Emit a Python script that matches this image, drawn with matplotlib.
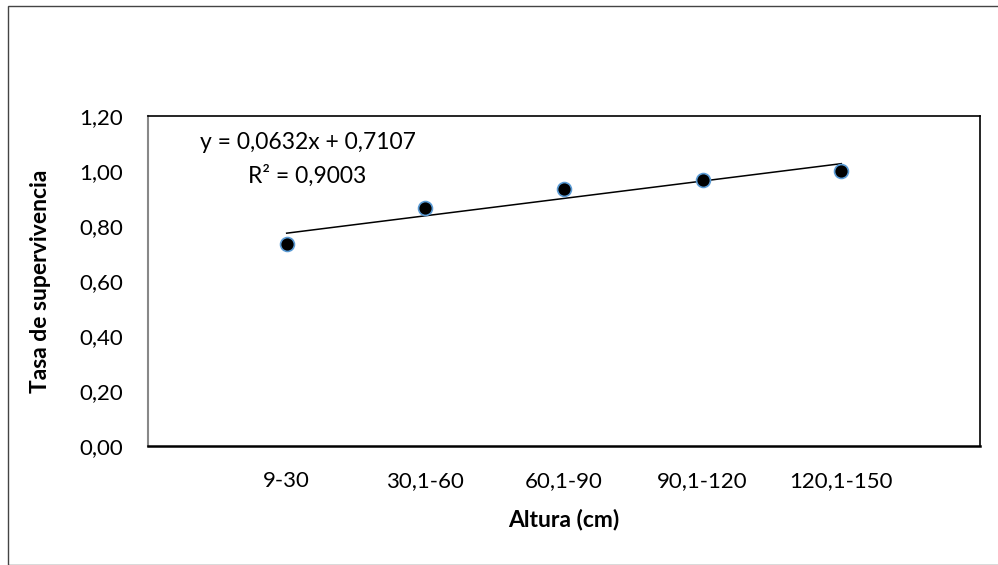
import numpy as np
import matplotlib.pyplot as plt
from matplotlib.patches import Rectangle

plt.rcParams['font.family'] = ['Lato', 'DejaVu Sans']

#data
categorias = ['9-30', '30,1-60', '60,1-90', '90,1-120', '120,1-150']
tasa = [0.735, 0.867, 0.933, 0.967, 1.00]
pendiente = 0.0632
intercepto = 0.7107
r2 = 0.9003

x = np.arange(1, len(categorias) + 1)

fig = plt.figure(figsize=(9.98, 5.65), dpi=100)
ax = fig.add_axes([148/998, 1 - 446/565, 832/998, 330/565])

#outer chart border
fig.patches.append(Rectangle((8/998, 0), 1.2, 1 - 6/565, transform=fig.transFigure,
                             fill=False, edgecolor='#444444', linewidth=1.0))

#trend line
ax.plot([x[0], x[-1]], [pendiente*x[0] + intercepto, pendiente*x[-1] + intercepto],
        color='black', linewidth=1.1, zorder=2)
ax.scatter(x, tasa, s=100, color='black', edgecolor='#5b9bd5', linewidth=1.2, zorder=3)

ax.set_xlim(0, 6)
ax.set_ylim(0, 1.2)
ax.set_xticks(x)
ax.set_xticklabels(categorias)
yt = np.arange(0, 1.21, 0.2)
ax.set_yticks(yt)
ax.set_yticklabels([('%.2f' % v).replace('.', ',') for v in yt])
ax.tick_params(length=0, labelsize=16)
ax.tick_params(axis='y', pad=18)
ax.tick_params(axis='x', pad=18)

ax.spines['left'].set_color('#888888')
ax.spines['left'].set_linewidth(1.5)
ax.spines['bottom'].set_linewidth(1.8)
ax.spines['top'].set_linewidth(1.2)
ax.spines['right'].set_linewidth(1.2)

ax.set_xlabel('Altura (cm)', fontsize=16.5, fontweight='bold', labelpad=13)
ax.set_ylabel('Tasa de supervivencia', fontsize=16.5, fontweight='bold', labelpad=20)

ax.text(1.15, 1.105, 'y = 0,0632x + 0,7107', fontsize=16.5, ha='center', va='center')
ax.text(1.15, 0.982, 'R² = 0,%d' % round(r2 * 10000), fontsize=16.5, ha='center', va='center')

fig.savefig('out.png', dpi=100)
